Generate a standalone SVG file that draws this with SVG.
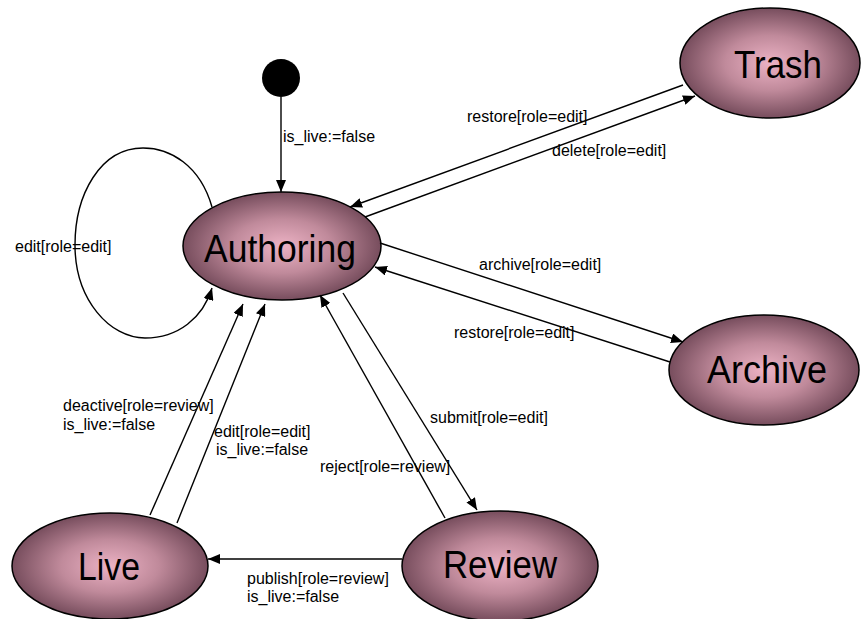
<svg xmlns="http://www.w3.org/2000/svg" width="864" height="619" viewBox="0 0 864 619">
  <defs>
    <radialGradient id="stateFill" cx="50%" cy="50%" r="50%">
      <stop offset="0" stop-color="#ecb2c4"/>
      <stop offset="0.5" stop-color="#c08a9b"/>
      <stop offset="1" stop-color="#774d5d"/>
    </radialGradient>
    <marker id="arrow" viewBox="0 0 12 10" refX="12" refY="5" markerWidth="12" markerHeight="10" markerUnits="userSpaceOnUse" orient="auto">
      <path d="M0,0 L12,5 L0,10 Z" fill="#000"/>
    </marker>
  </defs>
  <style>
    .state { fill: url(#stateFill); stroke: #000; stroke-width: 1.5; }
    .name { font-family: "Liberation Sans", Arial, sans-serif; font-size: 39px; fill: #000; text-anchor: middle; }
    .edge { fill: none; stroke: #000; stroke-width: 1.4; marker-end: url(#arrow); }
    .lbl { font-family: "Liberation Sans", Arial, sans-serif; font-size: 16px; fill: #000; }
  </style>
  <rect width="864" height="619" fill="#fff"/>

  <!-- states -->
  <g id="initial">
    <circle cx="281" cy="78" r="19" fill="#000"/>
  </g>
  <g id="authoring">
    <ellipse class="state" cx="282" cy="246" rx="99" ry="54"/>
    <text class="name" x="280" y="262" textLength="152" lengthAdjust="spacingAndGlyphs">Authoring</text>
  </g>
  <g id="trash">
    <ellipse class="state" cx="770" cy="63" rx="90" ry="55"/>
    <text class="name" x="778" y="78" textLength="88" lengthAdjust="spacingAndGlyphs">Trash</text>
  </g>
  <g id="archive">
    <ellipse class="state" cx="764" cy="370" rx="95" ry="55"/>
    <text class="name" x="767" y="383" textLength="120" lengthAdjust="spacingAndGlyphs">Archive</text>
  </g>
  <g id="live">
    <ellipse class="state" cx="110" cy="566" rx="98" ry="53"/>
    <text class="name" x="109" y="580" textLength="62" lengthAdjust="spacingAndGlyphs">Live</text>
  </g>
  <g id="review">
    <ellipse class="state" cx="500" cy="566" rx="98" ry="55"/>
    <text class="name" x="500" y="578" textLength="114" lengthAdjust="spacingAndGlyphs">Review</text>
  </g>

  <!-- transitions -->
  <g id="connectors">
    <line class="edge" x1="281" y1="97" x2="281" y2="192"/>
    <line class="edge" x1="683" y1="85" x2="350" y2="207"/>
    <line class="edge" x1="365" y1="217" x2="695" y2="96"/>
    <line class="edge" x1="380" y1="243" x2="683" y2="342"/>
    <line class="edge" x1="670" y1="362" x2="375" y2="267"/>
    <line class="edge" x1="343" y1="293" x2="477" y2="510"/>
    <line class="edge" x1="445" y1="518" x2="320" y2="295"/>
    <line class="edge" x1="150" y1="515" x2="243" y2="304"/>
    <line class="edge" x1="177" y1="523" x2="265" y2="304"/>
    <line class="edge" x1="402" y1="559" x2="208" y2="559"/>
    <path class="edge" d="M212,207 C200,165 170,148 143,148 C100,148 75,195 75,245 C75,300 110,338 145,338 C178,338 203,318 212,288"/>
  </g>

  <!-- transition labels -->
  <g id="labels">
    <text class="lbl" x="283" y="142">is_live:=false</text>
    <text class="lbl" x="467" y="122">restore[role=edit]</text>
    <text class="lbl" x="552" y="156">delete[role=edit]</text>
    <text class="lbl" x="15" y="252">edit[role=edit]</text>
    <text class="lbl" x="479" y="270">archive[role=edit]</text>
    <text class="lbl" x="454" y="338">restore[role=edit]</text>
    <text class="lbl" x="430" y="423">submit[role=edit]</text>
    <text class="lbl" x="320" y="472">reject[role=review]</text>
    <text class="lbl" x="63" y="411">deactive[role=review]</text>
    <text class="lbl" x="63" y="430">is_live:=false</text>
    <text class="lbl" x="214" y="437">edit[role=edit]</text>
    <text class="lbl" x="216" y="455">is_live:=false</text>
    <text class="lbl" x="247" y="584">publish[role=review]</text>
    <text class="lbl" x="247" y="602">is_live:=false</text>
  </g>
</svg>
